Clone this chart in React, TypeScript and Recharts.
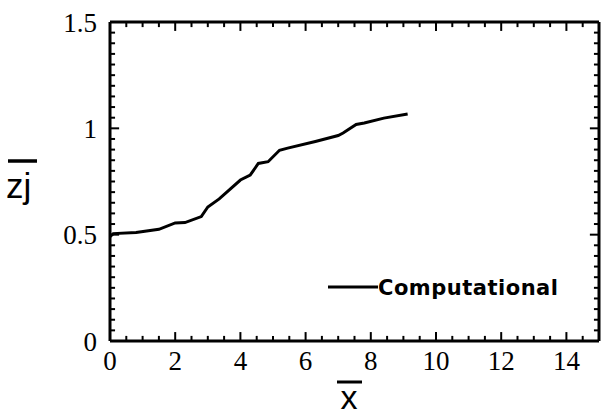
import React from "react";
import { LineChart, Line, XAxis, YAxis, ReferenceLine } from "recharts";

// distance along the jet (x-bar) and computed zj-bar
const xValues = [0, 0.1, 0.8, 1.5, 2.0, 2.3, 2.8, 3.0, 3.35, 4.0, 4.3, 4.55, 4.85, 5.2, 5.45, 6.3, 7.0, 7.15, 7.55, 7.8, 8.4, 9.13];
const zjValues = [0.49, 0.505, 0.51, 0.525, 0.555, 0.557, 0.585, 0.63, 0.668, 0.757, 0.78, 0.835, 0.843, 0.897, 0.907, 0.938, 0.966, 0.978, 1.018, 1.025, 1.048, 1.067];

const xMajor = [0, 2, 4, 6, 8, 10, 12, 14];
const yMajor = [0, 0.5, 1, 1.5];
const xMinor = Array.from({ length: 31 }, (_, i) => i * 0.5);
const yMinor = Array.from({ length: 31 }, (_, i) => Math.round(i * 5) / 100);

const data = xValues.map((x, i) => ({ x, zj: zjValues[i] }));

const X_MAX = 15;
const Y_MAX = 1.5;

const isMajor = (list: number[], v: number) => list.some((m) => Math.abs(m - v) < 1e-6);

// inward tick marks on all four sides, in data units (about 9px major, 5px minor)
const tickStyle = { stroke: "#000", strokeWidth: 2 };

function xTickMarks() {
  return xMinor.flatMap((v) => {
    const len = isMajor(xMajor, v) ? 0.042 : 0.024;
    return [
      <ReferenceLine key={"b" + v} segment={[{ x: v, y: 0 }, { x: v, y: len }]} {...tickStyle} />,
      <ReferenceLine key={"t" + v} segment={[{ x: v, y: Y_MAX }, { x: v, y: Y_MAX - len }]} {...tickStyle} />,
    ];
  });
}

function yTickMarks() {
  return yMinor.flatMap((v) => {
    const len = isMajor(yMajor, v) ? 0.28 : 0.155;
    return [
      <ReferenceLine key={"l" + v} segment={[{ x: 0, y: v }, { x: len, y: v }]} {...tickStyle} />,
      <ReferenceLine key={"r" + v} segment={[{ x: X_MAX, y: v }, { x: X_MAX - len, y: v }]} {...tickStyle} />,
    ];
  });
}

// axis titles and legend drawn over the chart
function Overlay() {
  return (
    <svg
      width={603}
      height={416}
      style={{ position: "absolute", left: 0, top: 0, pointerEvents: "none" }}
    >
      <line x1={337} x2={362} y1={382} y2={382} stroke="#000" strokeWidth={3} />
      <text x={349} y={409} textAnchor="middle" fontFamily="Liberation Sans" fontSize={34} fill="#000">
        x
      </text>
      <line x1={8} x2={37} y1={161} y2={161} stroke="#000" strokeWidth={3.5} />
      <text x={6} y={198} fontFamily="Liberation Sans" fontSize={35} fill="#000">
        zj
      </text>
      <line x1={328} x2={378} y1={287} y2={287} stroke="#000" strokeWidth={3} />
      <text x={378} y={295} fontFamily="DejaVu Sans" fontWeight="bold" fontSize={21} textLength={180} fill="#000">
        Computational
      </text>
    </svg>
  );
}

const labelFont = { fill: "#000", fontFamily: "Liberation Serif", fontSize: 27 };

export default function App() {
  return (
    <div style={{ position: "absolute", left: 0, top: 0, width: 603, height: 416, background: "#fff" }}>
      <LineChart width={603} height={416} data={data} margin={{ top: 22, right: 4, bottom: 74, left: 109 }}>
        <XAxis
          dataKey="x"
          type="number"
          domain={[0, X_MAX]}
          ticks={xMajor}
          interval={0}
          height={1}
          tickSize={0}
          tickMargin={10}
          tickLine={false}
          axisLine={{ stroke: "#000", strokeWidth: 3 }}
          tick={labelFont}
        />
        <YAxis
          type="number"
          domain={[0, Y_MAX]}
          ticks={yMajor}
          interval={0}
          width={1}
          tickSize={0}
          tickMargin={13}
          tickLine={false}
          axisLine={{ stroke: "#000", strokeWidth: 3 }}
          tick={labelFont}
        />
        <ReferenceLine y={Y_MAX} stroke="#000" strokeWidth={3} />
        <ReferenceLine x={X_MAX} stroke="#000" strokeWidth={3} />
        {xTickMarks()}
        {yTickMarks()}
        <Line
          type="linear"
          dataKey="zj"
          name="Computational"
          stroke="#000"
          strokeWidth={3}
          dot={false}
          isAnimationActive={false}
        />
      </LineChart>
      <Overlay />
    </div>
  );
}
